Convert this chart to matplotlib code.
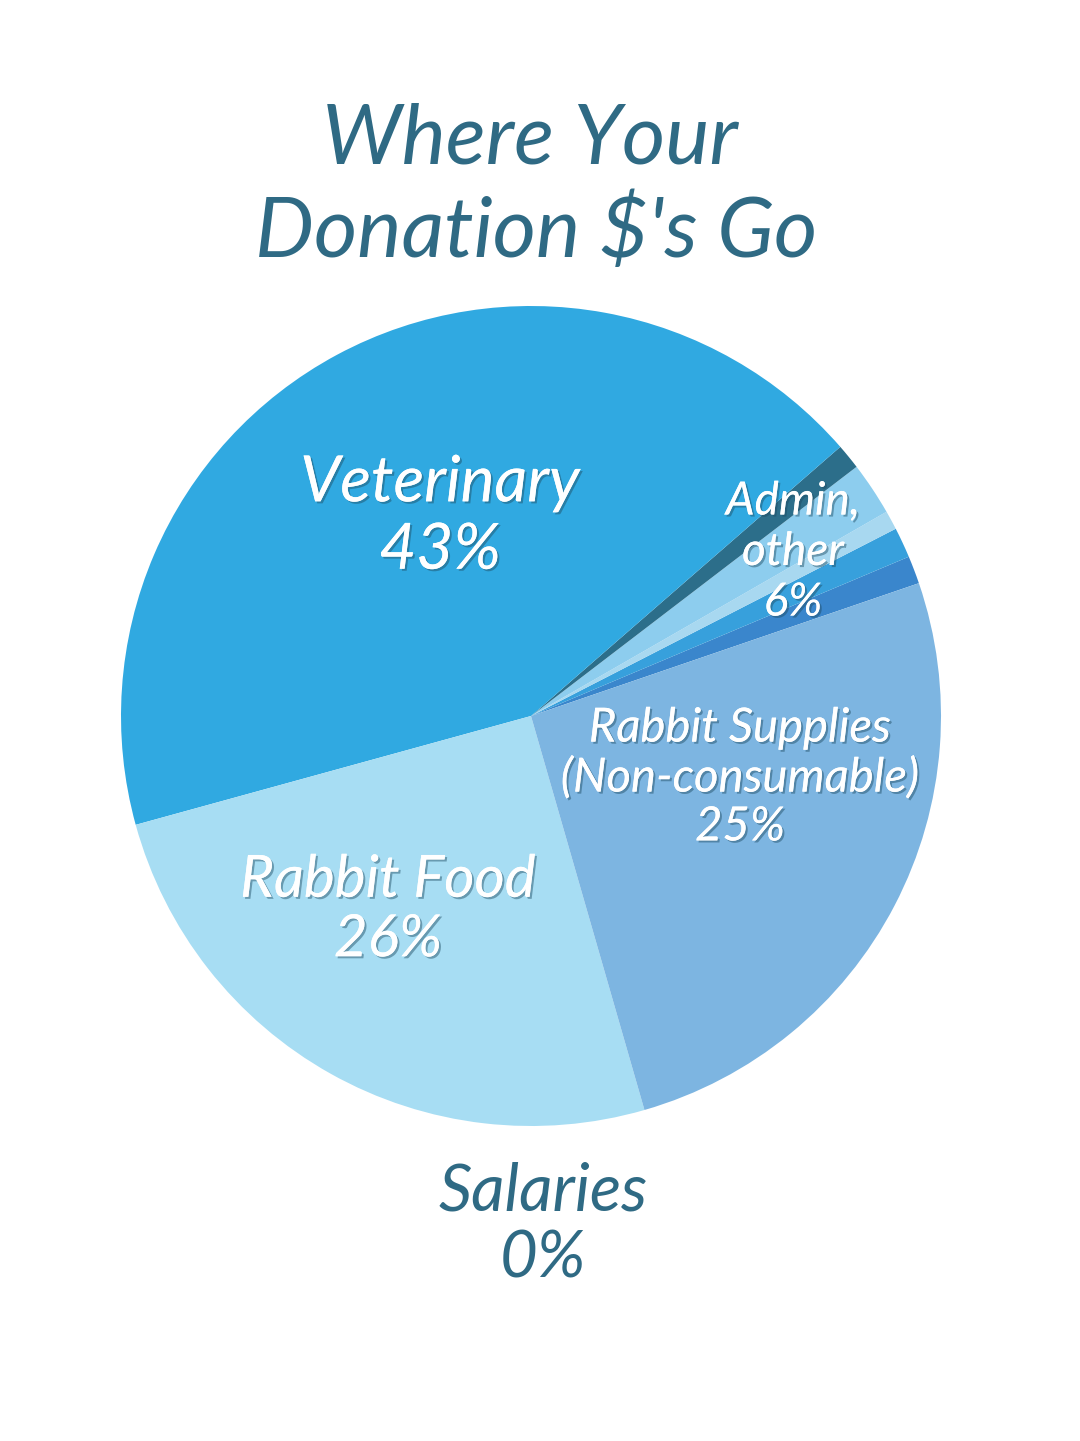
import matplotlib

matplotlib.use("Agg")
import matplotlib.pyplot as plt
import matplotlib.patheffects as pe

# slices, counterclockwise starting from the right side
slice_names = ["Admin 1", "Admin 2", "Admin 3", "Admin 4", "Admin 5",
               "Veterinary", "Rabbit Food", "Rabbit Supplies"]
slice_values = [1.1, 1.2, 0.75, 2.1, 1.0, 42.9, 25.2, 25.8]
slice_colors = ["#3a86cc", "#37a0dc", "#a8d8f0", "#8dcdee", "#2c6e8a",
                "#30a9e1", "#a7ddf3", "#7db5e1"]

TITLE_COLOR = "#2f6a84"
W, H = 1080, 1441

fig = plt.figure(figsize=(W / 100, H / 100), dpi=100)
fig.patch.set_facecolor("white")

# square axes: centre (531, 716) px, radius 410 px
cx, cy, r = 531, 716, 410
ax = fig.add_axes([(cx - r) / W, (H - cy - r) / H, 2 * r / W, 2 * r / H])
ax.pie(slice_values, colors=slice_colors, startangle=18.9, counterclock=True,
       radius=1, wedgeprops=dict(linewidth=0))
ax.set_xlim(-1, 1)
ax.set_ylim(-1, 1)
ax.axis("off")

font = dict(family=["Lato", "DejaVu Sans"], style="italic", weight="normal")


def px(x, y):
    return x / W, 1 - y / H


# title
fig.text(*px(530, 140), "Where Your", ha="center", va="center", fontsize=60,
         color=TITLE_COLOR, **font)
fig.text(*px(536, 232), "Donation $'s Go", ha="center", va="center", fontsize=60,
         color=TITLE_COLOR, **font)

# labels on the pie
labels = [
    ("Veterinary\n43%", 440, 517, 46, 1.2),
    ("Admin,\nother\n6%", 793, 552, 33, 1.25),
    ("Rabbit Supplies\n(Non-consumable)\n25%", 740, 778, 34, 1.2),
    ("Rabbit Food\n26%", 388, 910, 42, 1.15),
]
for txt, x, y, size, ls in labels:
    t = fig.text(*px(x, y), txt, ha="center", va="center", fontsize=size,
                 color="white", linespacing=ls, **font)
    t.set_path_effects([pe.withSimplePatchShadow(offset=(1.5, -1.5),
                                                 shadow_rgbFace="#1d4a60", alpha=0.45),
                        pe.Normal()])

# salaries note under the pie
fig.text(*px(543, 1225), "Salaries\n0%", ha="center", va="center", fontsize=47,
         color=TITLE_COLOR, linespacing=1.15, **font)

fig.savefig("out.png", dpi=100, facecolor="white")
